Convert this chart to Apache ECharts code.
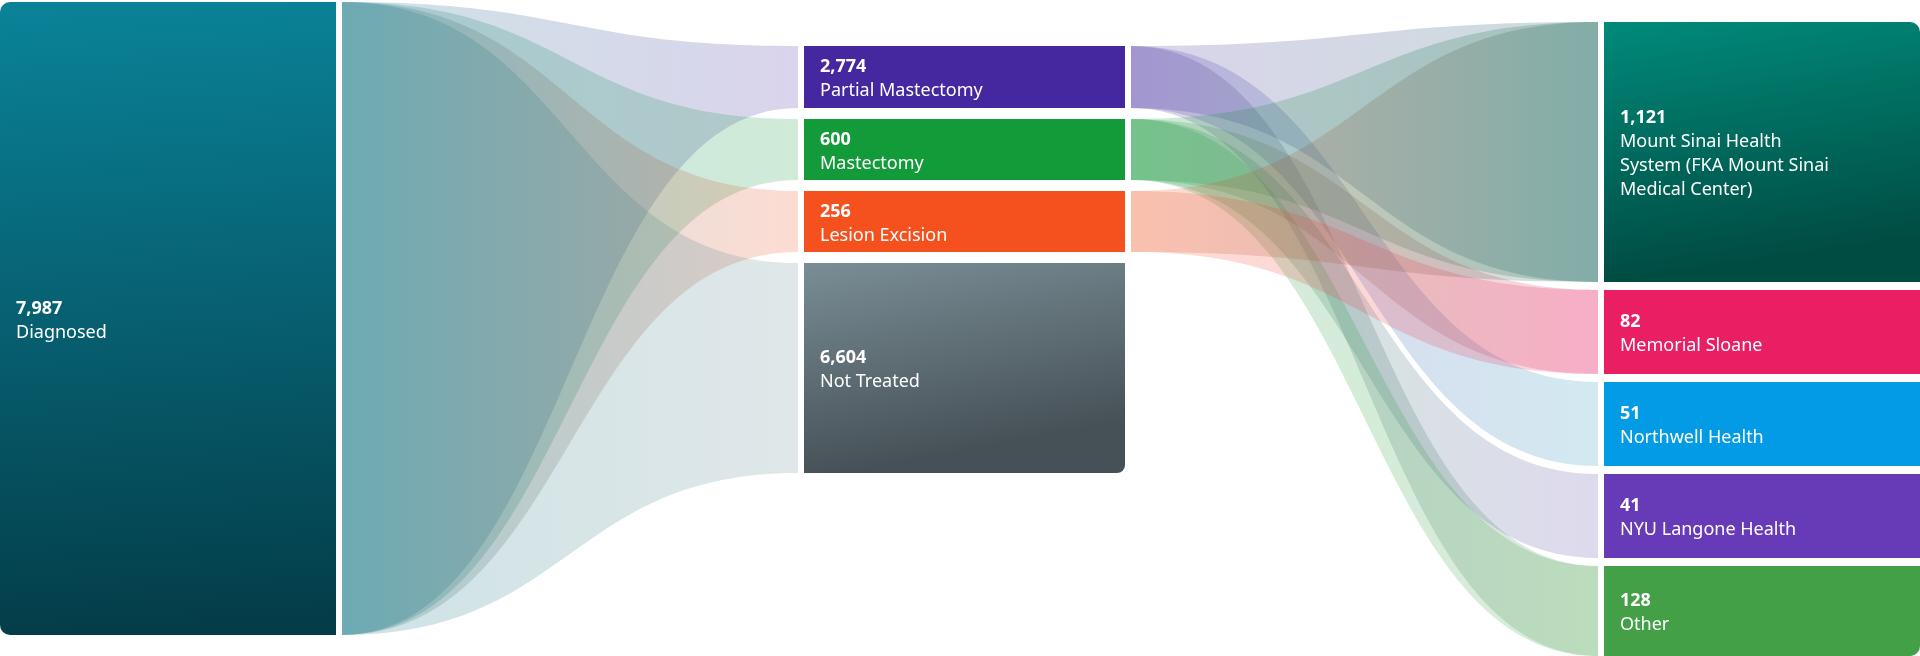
<!DOCTYPE html>
<html>
<head>
<meta charset="utf-8">
<script src="https://cdn.jsdelivr.net/npm/echarts@6/dist/echarts.min.js"></script>
<style>
  html, body { margin: 0; padding: 0; background: #ffffff; }
  #chart { width: 1920px; height: 656px; }
</style>
</head>
<body>
<div id="chart"></div>
<script>
// ---------------- DATA ----------------
const nodeNames = [
  'Diagnosed',
  'Partial Mastectomy',
  'Mastectomy',
  'Lesion Excision',
  'Not Treated',
  'Mount Sinai Health System (FKA Mount Sinai Medical Center)',
  'Memorial Sloane',
  'Northwell Health',
  'NYU Langone Health',
  'Other'
];
const nodeValues = [7987, 2774, 600, 256, 6604, 1121, 82, 51, 41, 128];
const nodeColumns = [0, 1, 1, 1, 1, 2, 2, 2, 2, 2];

// flows (source index -> target index)
const linkSources = [0, 0, 0, 0, 1, 1, 1, 2, 2, 2, 2, 3, 3];
const linkTargets = [1, 2, 3, 4, 5, 7, 9, 5, 6, 8, 9, 5, 6];

// ---------------- LAYOUT / STYLE CONFIG ----------------
const W = 1920, H = 656;
const columnLayout = [
  { x0: 0,    x1: 336,  top: 2,  gap: 0,  min: 0,  slope: 633 / 7987, offset: 0 },
  { x0: 804,  x1: 1125, top: 46, gap: 11, min: 61, slope: 0.0386,     offset: -45 },
  { x0: 1604, x1: 1920, top: 22, gap: 8,  min: 84, slope: 0.1712,     offset: 68.1 }
];
const linkPad = 6;
const linkOpacity = 0.2;
const labelPad = 16;
const labelShiftY = 2;
const labelWrap = 218;
const FONT = '"Noto Sans", "Open Sans", sans-serif';
const FONT_SIZE = 18;
const LINE_H = 24;

const nodeStyles = [
  { grad: ['#0a8399', '#043d49'], link: '#08707f', r: [10, 0, 0, 10] },
  { color: '#4527a0', link: '#4527a0' },
  { color: '#139a39', link: '#139a39' },
  { color: '#f4511e', link: '#f4511e' },
  { grad: ['#7a8d95', '#465157'], link: '#62878f', r: [0, 0, 8, 0] },
  { grad: ['#008a7a', '#004b42'], link: '#00574d', r: [0, 10, 0, 0] },
  { color: '#e91e63', link: '#e91e63' },
  { color: '#039be5', link: '#2191b8' },
  { color: '#673ab7', link: '#5b44a8' },
  { color: '#43a047', link: '#43a047', r: [0, 0, 10, 0] }
];

// ---------------- LAYOUT COMPUTATION ----------------
const layout = [];
const colCursor = columnLayout.map(c => c.top);
nodeValues.forEach((v, i) => {
  const c = columnLayout[nodeColumns[i]];
  const h = Math.max(c.min, v * c.slope + c.offset);
  const y0 = colCursor[nodeColumns[i]];
  layout[i] = { x0: c.x0, x1: c.x1, y0: y0, y1: y0 + h };
  colCursor[nodeColumns[i]] = y0 + h + c.gap;
});

const fmt = v => v.toLocaleString('en-US');

const measureCtx = document.createElement('canvas').getContext('2d');
function wrapWords(text, maxW) {
  measureCtx.font = FONT_SIZE + 'px ' + FONT;
  const words = text.split(' ');
  const lines = [];
  let cur = '';
  words.forEach(w => {
    const t = cur ? cur + ' ' + w : w;
    if (cur && measureCtx.measureText(t).width > maxW) {
      lines.push(cur);
      cur = w;
    } else {
      cur = t;
    }
  });
  if (cur) lines.push(cur);
  return lines;
}

function nodeFill(st) {
  if (st.grad) {
    return new echarts.graphic.LinearGradient(0, 0, 0.12, 1, [
      { offset: 0, color: st.grad[0] },
      { offset: 1, color: st.grad[1] }
    ]);
  }
  return st.color;
}

function renderLink(params, api) {
  const i = params.dataIndex;
  const s = layout[linkSources[i]];
  const t = layout[linkTargets[i]];
  const a0 = api.coord([s.x1 + linkPad, s.y0]);
  const a1 = api.coord([s.x1 + linkPad, s.y1]);
  const b0 = api.coord([t.x0 - linkPad, t.y0]);
  const b1 = api.coord([t.x0 - linkPad, t.y1]);
  const xm = (a0[0] + b0[0]) / 2;
  const d = 'M' + a0[0] + ',' + a0[1] +
    ' C' + xm + ',' + a0[1] + ' ' + xm + ',' + b0[1] + ' ' + b0[0] + ',' + b0[1] +
    ' L' + b1[0] + ',' + b1[1] +
    ' C' + xm + ',' + b1[1] + ' ' + xm + ',' + a1[1] + ' ' + a1[0] + ',' + a1[1] + ' Z';
  return {
    type: 'path',
    shape: { pathData: d },
    style: {
      fill: new echarts.graphic.LinearGradient(0, 0, 1, 0, [
        { offset: 0, color: nodeStyles[linkSources[i]].link },
        { offset: 1, color: nodeStyles[linkTargets[i]].link }
      ]),
      opacity: linkOpacity
    }
  };
}

function renderNode(params, api) {
  const i = params.dataIndex;
  const L = layout[i];
  const p0 = api.coord([L.x0, L.y0]);
  const p1 = api.coord([L.x1, L.y1]);
  const st = nodeStyles[i];
  const nameLines = wrapWords(nodeNames[i], labelWrap);
  const text = ['{v|' + fmt(nodeValues[i]) + '}']
    .concat(nameLines.map(l => '{n|' + l + '}'))
    .join('\n');
  return {
    type: 'group',
    children: [
      {
        type: 'rect',
        shape: { x: p0[0], y: p0[1], width: p1[0] - p0[0], height: p1[1] - p0[1], r: st.r || 0 },
        style: { fill: nodeFill(st) }
      },
      {
        type: 'text',
        x: p0[0] + labelPad,
        y: (p0[1] + p1[1]) / 2 + labelShiftY,
        style: {
          text: text,
          align: 'left',
          verticalAlign: 'middle',
          fill: '#ffffff',
          fontFamily: FONT,
          fontSize: FONT_SIZE,
          lineHeight: LINE_H,
          rich: {
            v: { fontFamily: FONT, fontSize: FONT_SIZE, fontWeight: 'bold', lineHeight: LINE_H, fill: '#ffffff' },
            n: { fontFamily: FONT, fontSize: FONT_SIZE, fontWeight: 'normal', lineHeight: LINE_H, fill: '#ffffff' }
          }
        }
      }
    ]
  };
}

const chart = echarts.init(document.getElementById('chart'), null, { renderer: 'canvas' });
chart.setOption({
  animation: false,
  backgroundColor: '#ffffff',
  grid: { left: 0, right: 0, top: 0, bottom: 0 },
  xAxis: { type: 'value', min: 0, max: W, show: false },
  yAxis: { type: 'value', min: 0, max: H, inverse: true, show: false },
  series: [
    {
      type: 'custom',
      name: 'flows',
      coordinateSystem: 'cartesian2d',
      silent: true,
      renderItem: renderLink,
      data: linkSources.map((s, i) => [s, linkTargets[i]])
    },
    {
      type: 'custom',
      name: 'stages',
      coordinateSystem: 'cartesian2d',
      silent: true,
      renderItem: renderNode,
      data: nodeValues.map((v, i) => [i, v])
    }
  ]
});
</script>
</body>
</html>
